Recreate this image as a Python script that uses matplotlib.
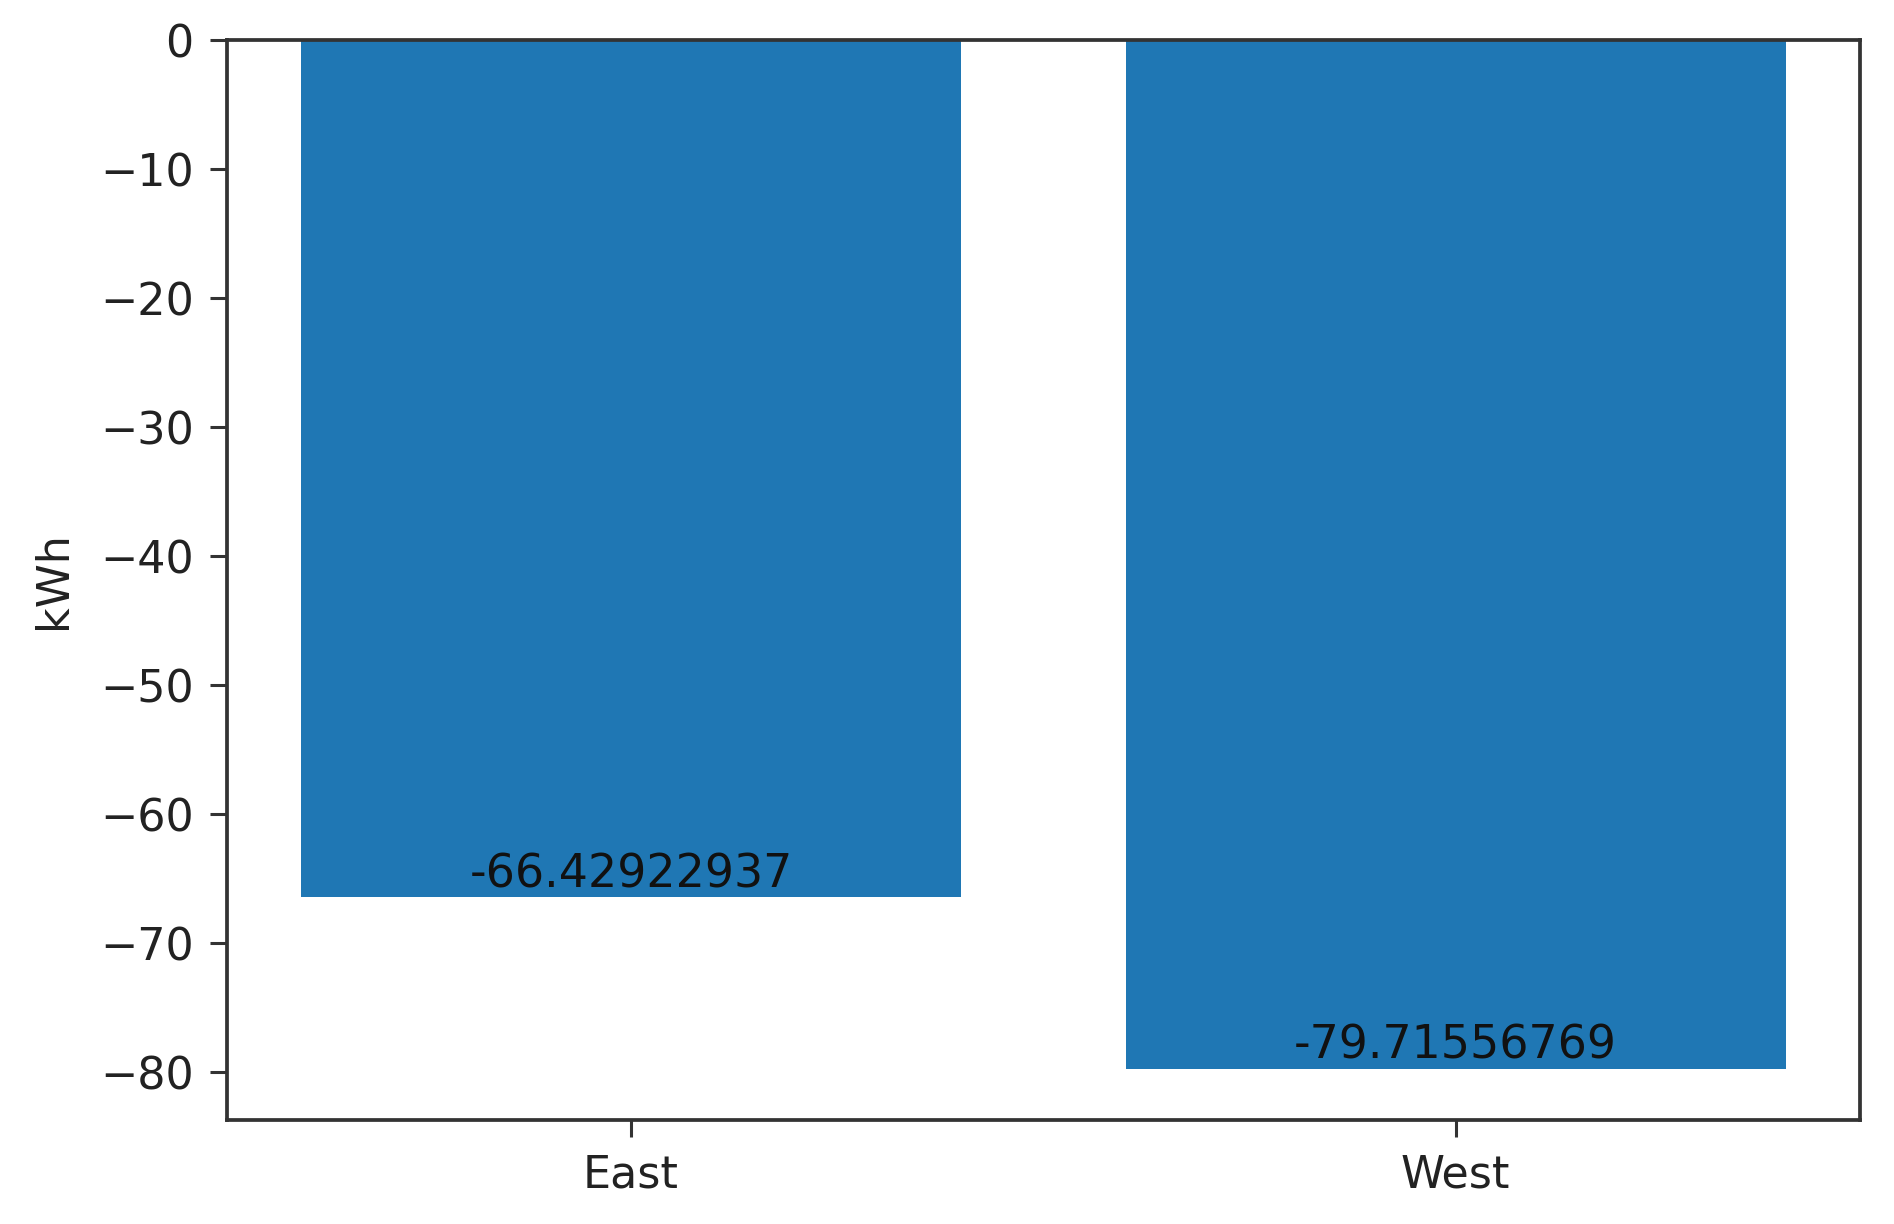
import matplotlib
matplotlib.use("Agg")
import matplotlib.pyplot as plt

# data
regions = ["East", "West"]
energy_kwh = [-66.42922937, -79.71556769]
bar_labels = ["-66.42922937", "-79.71556769"]

plt.rcParams['font.family'] = ['DejaVu Sans']
plt.rcParams['font.size'] = 32

fig = plt.figure(figsize=(18.94, 12.24), dpi=100)
ax = fig.add_axes([0.1199, 0.085, 0.862, 0.8823])

bars = ax.bar(regions, energy_kwh, width=0.8, color='#1f77b4')

# value labels sit just above the bar end, inside the bar
for b, txt in zip(bars, bar_labels):
    ax.text(b.get_x() + b.get_width() / 2, b.get_height(), txt,
            ha='center', va='bottom', color='#111111', fontsize=33)

ax.set_ylabel('kWh', color='#222222', labelpad=18)
ax.set_yticks([0, -10, -20, -30, -40, -50, -60, -70, -80])

for s in ax.spines.values():
    s.set_linewidth(2.7)
    s.set_color('#333333')
ax.tick_params(axis='both', length=12, width=2.2, pad=12,
               color='#333333', labelcolor='#222222', labelsize=32)

fig.savefig('out.png', dpi=100)
